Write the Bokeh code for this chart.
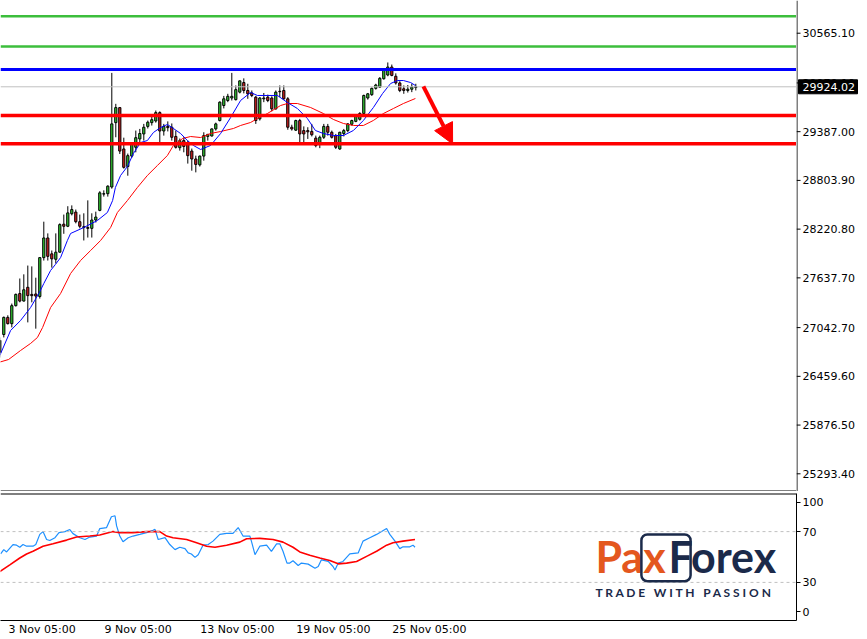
from bokeh.plotting import figure
from bokeh.layouts import column, row
from bokeh.models import (Range1d, FixedTicker, Span, Arrow, NormalHead,
                          BoxAnnotation, LinearAxis)
from bokeh.core.properties import value
from bokeh.embed import file_html
from bokeh.resources import INLINE

# ---------------- data (H4 bars, index 0..104) ----------------
opens = [26745, 26960, 27165, 27090, 27305, 27450, 27360, 27525, 27440, 27445,
         27415, 27880, 28115, 27925, 27860, 27945, 28280, 28255, 28405, 28425,
         28310, 28250, 28240, 28230, 28330, 28445, 28640, 28645, 28725, 29495,
         29675, 29180, 28970, 29095, 29200, 29300, 29360, 29450, 29495, 29515,
         29615, 29395, 29450, 29440, 29330, 29195, 29280, 29245, 29155, 29060,
         28990, 29095, 29330, 29335, 29420, 29520, 29700, 29760, 29790, 29770,
         29860, 29975, 29880, 29850, 29800, 29540, 29780, 29800, 29790, 29660,
         29870, 29880, 29780, 29440, 29405, 29520, 29400, 29400, 29390, 29310,
         29240, 29320, 29450, 29380, 29340, 29180, 29365, 29400, 29475, 29510,
         29535, 29605, 29790, 29830, 29905, 29920, 30020, 30065, 30160, 30050,
         29970, 29900, 29880, 29895, 29915]
highs = [26925, 27175, 27190, 27330, 27450, 27630, 27680, 27785, 27775, 27640,
         27880, 28310, 28170, 27965, 28170, 28290, 28395, 28495, 28505, 28455,
         28395, 28410, 28565, 28410, 28430, 28675, 28685, 28745, 30090, 29720,
         29680, 29315, 29125, 29260, 29400, 29420, 29480, 29520, 29570, 29640,
         29630, 29480, 29510, 29485, 29400, 29305, 29320, 29280, 29185, 29100,
         29100, 29380, 29355, 29425, 29495, 29750, 29815, 29840, 30090, 29940,
         29999, 30025, 29960, 29880, 29815, 29800, 29850, 29830, 29810, 29880,
         29940, 29940, 29800, 29470, 29530, 29540, 29450, 29440, 29480, 29340,
         29340, 29480, 29480, 29400, 29360, 29385, 29420, 29490, 29530, 29580,
         29620, 29830, 29850, 29915, 29960, 30040, 30140, 30215, 30190, 30085,
         29990, 29940, 29945, 29960, 29960]
lows = [26685, 26925, 27080, 27045, 27295, 27345, 27355, 27105, 27345, 27030,
        27390, 27845, 27845, 27760, 27810, 27940, 28165, 28245, 28385, 28290,
        28230, 28085, 28120, 28120, 28300, 28435, 28610, 28610, 28705, 29320,
        29120, 28945, 28860, 29075, 29140, 29240, 29280, 29425, 29460, 29495,
        29260, 29340, 29390, 29280, 29185, 29160, 29140, 29005, 28920, 28900,
        28970, 29040, 29280, 29330, 29400, 29510, 29665, 29740, 29760, 29760,
        29845, 29845, 29780, 29800, 29480, 29520, 29740, 29740, 29630, 29650,
        29800, 29770, 29410, 29400, 29395, 29240, 29240, 29300, 29330, 29200,
        29190, 29300, 29340, 29305, 29180, 29170, 29330, 29380, 29460, 29500,
        29520, 29590, 29770, 29815, 29890, 29910, 30010, 30050, 30050, 29950,
        29860, 29840, 29855, 29860, 29880]
closes = [26890, 27165, 27090, 27305, 27440, 27360, 27495, 27425, 27425, 27420,
          27880, 28115, 27895, 27865, 27945, 28275, 28255, 28415, 28455, 28310,
          28255, 28240, 28230, 28330, 28365, 28655, 28645, 28735, 29480, 29675,
          29155, 28960, 29100, 29240, 29315, 29365, 29440, 29500, 29530, 29615,
          29395, 29450, 29435, 29320, 29200, 29280, 29210, 29100, 29060, 28995,
          29095, 29340, 29355, 29420, 29480, 29740, 29780, 29810, 29810, 29890,
          29995, 29880, 29840, 29820, 29520, 29790, 29790, 29760, 29660, 29860,
          29865, 29780, 29440, 29420, 29520, 29360, 29360, 29385, 29350, 29220,
          29320, 29450, 29380, 29320, 29200, 29380, 29400, 29480, 29520, 29570,
          29605, 29820, 29840, 29905, 29945, 30025, 30120, 30160, 30060, 29970,
          29880, 29880, 29895, 29920, 29924.02]

fast_ma_x = [0, 2.7, 5.2, 7.7, 9.9, 11, 12.7, 13.9, 15.2, 16.9, 17.7, 21, 24.4, 26.9,
             28.2, 28.9, 30.2, 31.9, 33.4, 35.2, 36.9, 38.4, 40.2, 41.9, 43.4, 45.2,
             46.9, 48.4, 50.2, 52.7, 55.2, 57.7, 60.2, 62.7, 64.4, 66.9, 69.4, 71.9,
             74.4, 76.9, 78.9, 80.9, 83.4, 85.9, 88.4, 90.9, 93.4, 95.7, 97.7, 99.4,
             100.9, 102.7, 103.9]
fast_ma = [26709, 27008, 27128, 27283, 27463, 27570, 27726, 27798, 27881, 28085,
           28169, 28240, 28324, 28420, 28563, 28719, 28863, 28970, 29126, 29257,
           29281, 29377, 29437, 29473, 29425, 29365, 29281, 29222, 29174, 29222,
           29365, 29556, 29760, 29856, 29820, 29820, 29820, 29736, 29664, 29544,
           29401, 29365, 29341, 29341, 29401, 29521, 29676, 29844, 29963, 29999,
           29999, 29975, 29939]
slow_ma_x = [0, 2.2, 5.2, 7.7, 9.4, 10.7, 12.7, 15.2, 17.7, 20.2, 22.7, 25.2, 27.7,
             29.4, 31.9, 34.4, 36.9, 39.4, 41.9, 43.4, 45.7, 47.7, 50.2, 52.7, 55.2,
             58.4, 60.2, 62.7, 64.4, 66.9, 70.2, 71.9, 74.4, 77.7, 80.9, 83.4, 85.9,
             88.4, 90.9, 93.4, 95.9, 98.4, 100.9, 103.9]
slow_ma = [26630, 26661, 26769, 26853, 26924, 27044, 27283, 27451, 27690, 27846,
           27965, 28085, 28240, 28420, 28563, 28719, 28863, 28982, 29102, 29222,
           29305, 29329, 29317, 29365, 29389, 29425, 29461, 29497, 29544, 29604,
           29700, 29724, 29724, 29676, 29604, 29533, 29485, 29461, 29461, 29521,
           29604, 29664, 29724, 29784]

green_levels = [30768, 30406]
blue_levels = [30131]
red_levels = [29580, 29242]
last_price = 29924.02
arrow_from = (105.9, 29930)
arrow_to = (113.2, 29240)

price_ticks = [25293.4, 25876.5, 26459.6, 27042.7, 27637.7, 28220.8, 28803.9,
               29387.0, 29970.1, 30565.1]

rsi_x = [0.2, 1, 1.7, 3.3, 4.2, 5, 5.8, 6.7, 8.3, 9, 10, 10.8, 11.7, 12.5, 13.8,
         14.8, 16.3, 17.5, 18.3, 20, 21.3, 22.5, 24.2, 25, 26.7, 27.9, 28.8, 29.2,
         30, 30.8, 32.1, 33.3, 35, 36.7, 38.3, 38.8, 39.6, 41.3, 42.5, 43.8, 45,
         46.3, 47.1, 47.9, 48.8, 49.6, 50.8, 52.1, 53.3, 55, 56.7, 58.3, 59.6, 60.8,
         62.5, 62.9, 63.8, 65, 66.7, 67.9, 69.2, 70, 70.8, 71.8, 72.5, 73.3, 74.6,
         75.4, 77.1, 78.8, 79.6, 80.4, 82.1, 83.3, 83.8, 84.6, 85.8, 87.5, 89.6,
         90.8, 92.5, 94.2, 96.7, 97.5, 98.8, 100, 100.8, 102.5, 103.3, 103.8]
rsi = [52.4, 55.8, 54, 59.8, 59.3, 57.7, 59.8, 58.5, 58.5, 59.8, 67.8, 70, 63.8, 63,
       65.2, 69.2, 70, 71.6, 68.4, 65.2, 63.8, 65.7, 66.5, 72.4, 73.2, 81.7, 82.5,
       74.5, 66.5, 62, 65.2, 66.5, 67.8, 69.2, 71, 71.8, 63.8, 65.2, 59.8, 55.8,
       57.7, 56.6, 53.2, 52.4, 49.7, 51.8, 59.3, 59.8, 62.5, 67.8, 68.6, 68.6, 73.2,
       66.5, 66.5, 62.5, 51.8, 58.5, 59.3, 54.5, 60.4, 60.4, 54.5, 45.2, 45.2, 47,
       43.3, 45.2, 44.4, 41.2, 42.5, 47.8, 46.5, 42.5, 39.8, 45.2, 46.5, 52.4, 53.2,
       62.5, 65.2, 67.8, 72.4, 67.8, 62.5, 56.6, 58, 58, 59.3, 57.7]
rsi_ma_x = [0, 2.5, 5, 6.7, 8.3, 10.8, 13.3, 16.7, 19.2, 22.5, 25, 28.3, 30, 33.3,
            36.7, 40, 41.7, 43.3, 46.7, 49.2, 51.7, 53.8, 56.7, 60, 61.7, 65, 68.3,
            70.8, 73.3, 75, 77.5, 80, 82.5, 84.6, 86.7, 89.2, 91.7, 94.2, 96.7, 98.3,
            100.8, 103.8]
rsi_ma = [38.5, 43.8, 49.2, 52.4, 54.5, 58.5, 60.4, 63.3, 65.7, 66.5, 67.3, 70, 69.2,
          69.2, 70, 70, 66.5, 65.2, 63.8, 61.2, 58.5, 57.7, 59.3, 61.7, 64.4, 64.7,
          63.8, 61.7, 57.7, 54, 51.3, 49.2, 47.3, 44.6, 45.2, 46.5, 50.5, 54.5, 59.3,
          61.2, 62.5, 63.8]
rsi_levels = [100, 70, 30, 0]
rsi_dashed = [70, 30]

date_tick_bars = [2, 26, 50, 74, 98]
date_labels = ["3 Nov 05:00", "9 Nov 05:00", "13 Nov 05:00", "19 Nov 05:00", "25 Nov 05:00"]

# ---------------- styling ----------------
FONT = "DejaVu Sans"
W_TOTAL = 867
AX_W = 71
FRAME_W = W_TOTAL - AX_W
PX_PER_BAR = 4.0
X0 = 0.175
X1 = X0 + FRAME_W / PX_PER_BAR
Y0, Y1 = 25081.6, 30956.4
MAIN_H = 491
UP, DOWN = "#33cc33", "#d42020"
NAVY, ORANGE = "#1b2a4a", "#e4571e"

x_range = Range1d(X0, X1)
y_range = Range1d(Y0, Y1)

# ---------------- price panel ----------------
p1 = figure(width=FRAME_W, height=MAIN_H, x_range=x_range, y_range=y_range,
            output_backend="svg", toolbar_location=None,
            x_axis_location=None, y_axis_location=None,
            min_border_left=0, min_border_right=0, min_border_top=0,
            min_border_bottom=0)
p1.outline_line_color = None
p1.grid.visible = False
p1.add_layout(Span(location=Y0, dimension="width", line_color="black", line_width=2))

p1.add_layout(Span(location=last_price, dimension="width", line_color="#c0c0c0", line_width=1))
for lv in green_levels:
    p1.add_layout(Span(location=lv, dimension="width", line_color="#3cbe3c", line_width=2.5))
for lv in blue_levels:
    p1.add_layout(Span(location=lv, dimension="width", line_color="#0000ff", line_width=3))
for lv in red_levels:
    p1.add_layout(Span(location=lv, dimension="width", line_color="#ff0000", line_width=3.5))

idx = list(range(len(closes)))
p1.segment(x0=idx, y0=lows, x1=idx, y1=highs, line_color="black", line_width=1)
up_i = [i for i in idx if closes[i] >= opens[i]]
dn_i = [i for i in idx if closes[i] < opens[i]]
p1.vbar(x=up_i, width=0.55, top=[closes[i] for i in up_i], bottom=[opens[i] for i in up_i],
        fill_color=UP, line_color="black", line_width=1)
p1.vbar(x=dn_i, width=0.55, top=[opens[i] for i in dn_i], bottom=[closes[i] for i in dn_i],
        fill_color=DOWN, line_color="black", line_width=1)

p1.line(slow_ma_x, slow_ma, line_color="#ff0000", line_width=1)
p1.line(fast_ma_x, fast_ma, line_color="#0000ff", line_width=1)

p1.add_layout(Arrow(end=NormalHead(size=20, fill_color="#ff0000", line_color="#ff0000"),
                    x_start=arrow_from[0], y_start=arrow_from[1],
                    x_end=arrow_to[0], y_end=arrow_to[1],
                    line_color="#ff0000", line_width=4))

# ---------------- price scale (right strip, shares the price y-range) ----------------
pa = figure(width=AX_W, height=MAIN_H, x_range=Range1d(0, AX_W), y_range=y_range,
            output_backend="svg", toolbar_location=None,
            x_axis_location=None, y_axis_location=None,
            min_border_left=0, min_border_right=0, min_border_top=0,
            min_border_bottom=0)
pa.outline_line_color = None
pa.grid.visible = False
pa.add_layout(Span(location=0.5, dimension="height", line_color="black", line_width=1))
pa.segment(x0=[0] * len(price_ticks), x1=[4] * len(price_ticks),
           y0=price_ticks, y1=price_ticks, line_color="black", line_width=1)
pa.text(x=[6] * len(price_ticks), y=price_ticks, text=[f"{t:.2f}" for t in price_ticks],
        text_font=value(FONT), text_font_size="11px", text_color="black",
        text_baseline="middle", text_align="left")
pa.rect(x=[31.5], y=[last_price], width=59, height=14, height_units="screen",
        fill_color="black", line_color="black")
pa.text(x=[6], y=[last_price], text=[f"{last_price:.2f}"],
        text_font=value(FONT), text_font_size="11px", text_color="white",
        text_baseline="middle", text_align="left")

# ---------------- oscillator panel ----------------
p2 = figure(width=W_TOTAL, height=148, x_range=x_range, y_range=Range1d(0, 100),
            output_backend="svg", toolbar_location=None, y_axis_location="right",
            x_axis_location=None,
            min_border_left=0, min_border_right=AX_W, min_border_top=2,
            min_border_bottom=19)
p2.outline_line_color = None
p2.grid.visible = False
p2.add_layout(Span(location=100, dimension="width", line_color="black", line_width=2))

tick_pos = [lv - 7 if lv == 100 else (lv + 7 if lv == 0 else lv) for lv in rsi_levels]
ya = p2.yaxis[0]
ya.ticker = FixedTicker(ticks=tick_pos)
ya.major_label_overrides = {tp: str(lv) for tp, lv in zip(tick_pos, rsi_levels)}
ya.axis_line_color = "black"
ya.major_tick_line_color = "black"
ya.major_tick_out = 4
ya.major_tick_in = 0
ya.minor_tick_line_color = None
ya.major_label_standoff = 2
ya.major_label_text_font = FONT
ya.major_label_text_font_size = "11px"
ya.major_label_text_color = "black"

# date labels are left-aligned at their bar in the original; the axis centres them,
# so the tick sits at the label's estimated centre
char_px = 6.25
label_ticks = [b + (len(lab) * char_px / 2) / PX_PER_BAR for b, lab in zip(date_tick_bars, date_labels)]
xa = LinearAxis(ticker=FixedTicker(ticks=label_ticks),
                major_label_overrides={t: lab for t, lab in zip(label_ticks, date_labels)})
xa.axis_line_color = "black"
xa.major_tick_line_color = None
xa.major_tick_out = 0
xa.major_tick_in = 0
xa.minor_tick_line_color = None
xa.major_label_standoff = 2
xa.major_label_text_font = FONT
xa.major_label_text_font_size = "11px"
xa.major_label_text_color = "black"
p2.add_layout(xa, "below")

for lv in rsi_dashed:
    p2.add_layout(Span(location=lv, dimension="width", line_color="#c0c0c0",
                       line_width=1, line_dash="3 3"))

p2.line(rsi_x, rsi, line_color="#1e90ff", line_width=1.2)
p2.line(rsi_ma_x, rsi_ma, line_color="#ff0000", line_width=1.6)

# logo
p2.add_layout(BoxAnnotation(left=160.4, right=172.7, bottom=30.9, top=67.8,
                            fill_alpha=0, line_color=NAVY, line_alpha=1.0,
                            line_width=2.5, border_radius=6))
p2.text(x=[148.9], y=[50.5], text=["Pax"], text_font=value("Lato"),
        text_font_style="bold", text_font_size="43px", text_color=ORANGE,
        text_baseline="alphabetic")
p2.text(x=[167.2], y=[50.5], text=["Forex"], text_font=value("Lato"),
        text_font_style="bold", text_font_size="43px", text_color=NAVY,
        text_baseline="alphabetic")
p2.text(x=[148.9], y=[21.8],
        text=["T R A D E\u00a0\u00a0\u00a0W I T H\u00a0\u00a0\u00a0P A S S I O N"],
        text_font=value("Lato"), text_font_style="bold", text_font_size="12px",
        text_color=NAVY, text_baseline="alphabetic")

layout = column(row(p1, pa, spacing=0), p2, spacing=0)
open("out.html", "w").write(file_html(layout, INLINE))
